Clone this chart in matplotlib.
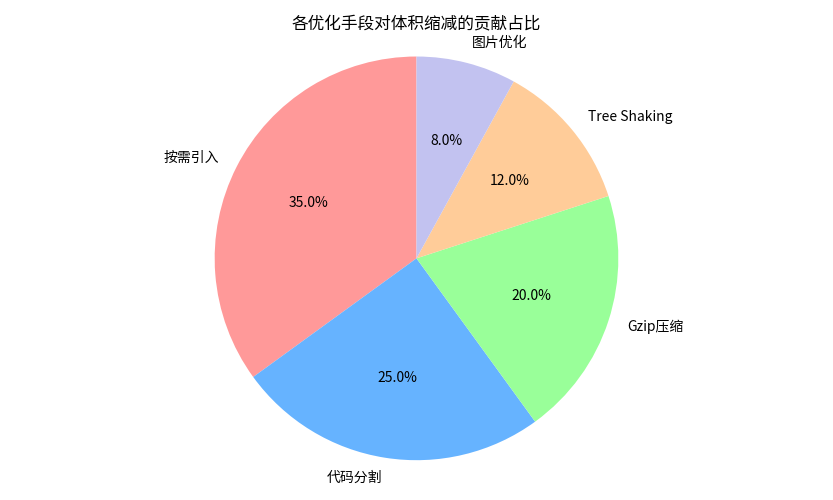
import matplotlib
matplotlib.use('Agg')
import matplotlib.pyplot as plt

plt.rcParams['font.family'] = ['Noto Sans CJK SC', 'DejaVu Sans']

labels = ['按需引入', '代码分割', 'Gzip压缩', 'Tree Shaking', '图片优化']
sizes = [35, 25, 20, 12, 8]
colors = ['#ff9999', '#66b3ff', '#99ff99', '#ffcc99', '#c2c2f0']

fig, ax = plt.subplots(figsize=(8.33, 5), dpi=100)
ax.pie(sizes, labels=labels, colors=colors, autopct='%1.1f%%', startangle=90)
ax.axis('equal')
ax.set_title('各优化手段对体积缩减的贡献占比')
plt.tight_layout()
plt.savefig('out.png', dpi=100)
